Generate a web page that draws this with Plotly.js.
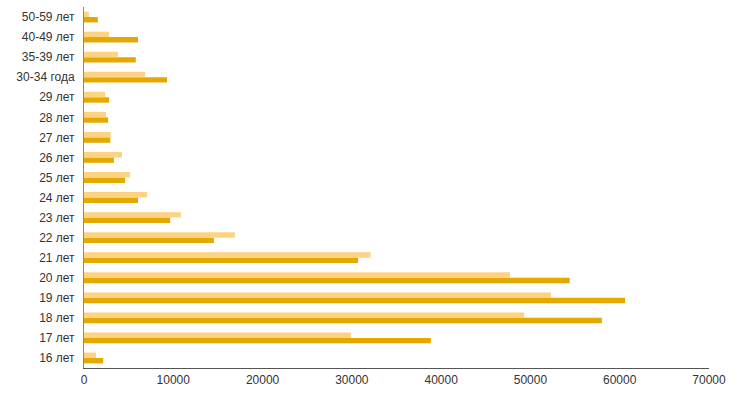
<!DOCTYPE html>
<html>
<head>
<meta charset="utf-8">
<script src="https://cdn.plot.ly/plotly-3.0.1.min.js"></script>
<style>html,body{margin:0;padding:0;background:#fff;}#chart{width:740px;height:397px;}</style>
</head>
<body>
<div id="chart"></div>
<script>
const categories = ["16 лет","17 лет","18 лет","19 лет","20 лет","21 лет","22 лет","23 лет","24 лет","25 лет","26 лет","27 лет","28 лет","29 лет","30-34 года","35-39 лет","40-49 лет","50-59 лет"];
const seriesLight = [1350, 29900, 49300, 52300, 47700, 32100, 16900, 10850, 7050, 5150, 4250, 3000, 2450, 2350, 6850, 3800, 2800, 550];
const seriesDark  = [2150, 38850, 58000, 60600, 54400, 30700, 14550, 9650, 6050, 4600, 3350, 2950, 2700, 2800, 9300, 5800, 6050, 1550];
const xTicks = [0,10000,20000,30000,40000,50000,60000,70000];

const traces = [
  {type:'bar', orientation:'h', name:'Серия 2', y:categories, x:seriesDark, marker:{color:'#e4a900'}, hoverinfo:'x+y'},
  {type:'bar', orientation:'h', name:'Серия 1', y:categories, x:seriesLight, marker:{color:'#fdd283'}, hoverinfo:'x+y'}
];
const layout = {
  width:740, height:397,
  margin:{l:84, r:31, t:7, b:29},
  paper_bgcolor:'#fff', plot_bgcolor:'#fff',
  showlegend:false,
  barmode:'group', bargap:0.46, bargroupgap:0,
  font:{family:'"Liberation Sans", Arial, sans-serif', size:12, color:'#333'},
  xaxis:{range:[0,70000], tickvals:xTicks, ticktext:xTicks.map(String), showgrid:false, zeroline:false,
         showline:true, linecolor:'#555', linewidth:1, ticks:'outside', ticklen:1, tickcolor:'rgba(0,0,0,0)', tickfont:{size:12,color:'#333'}},
  yaxis:{type:'category', categoryorder:'array', categoryarray:categories, showgrid:false, zeroline:false,
         showline:true, linecolor:'#888', linewidth:1, ticks:'outside', ticklen:6, tickcolor:'rgba(0,0,0,0)', tickfont:{size:12,color:'#333'}}
};
Plotly.newPlot('chart', traces, layout, {displayModeBar:false, staticPlot:true});
</script>
</body>
</html>
